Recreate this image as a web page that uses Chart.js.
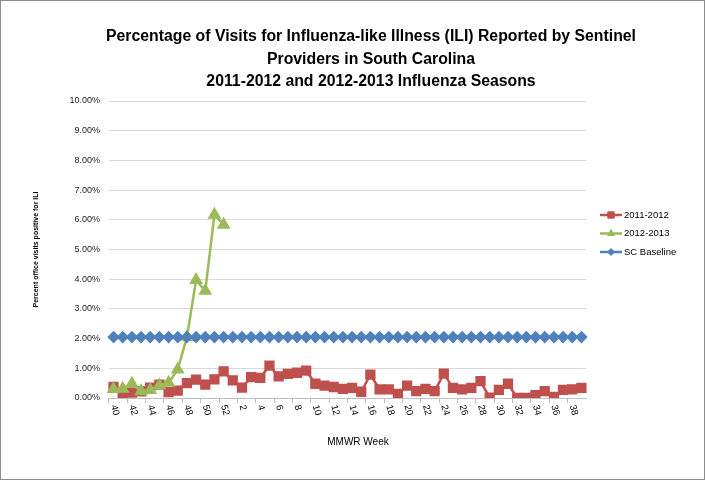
<!DOCTYPE html>
<html>
<head>
<meta charset="utf-8">
<script src="https://cdn.jsdelivr.net/npm/chart.js@4/dist/chart.umd.min.js"></script>
<style>
  html, body { margin: 0; padding: 0; background: #fff; }
  #wrap { width: 705px; height: 480px; box-sizing: border-box; border: 1px solid #8c8c8c; background: #fff; }
  canvas { display: block; }
</style>
</head>
<body>
<div id="wrap"><canvas id="ili" width="703" height="478"></canvas></div>
<script>
// MMWR weeks, 40 of one year through 39 of the next
const weeks = [40, 41, 42, 43, 44, 45, 46, 47, 48, 49, 50, 51, 52,
  1, 2, 3, 4, 5, 6, 7, 8, 9, 10, 11, 12, 13, 14, 15, 16, 17, 18, 19, 20,
  21, 22, 23, 24, 25, 26, 27, 28, 29, 30, 31, 32, 33, 34, 35, 36, 37, 38, 39];

// percent of visits for ILI
const season1112 = [0.37, 0.12, 0.18, 0.22, 0.35, 0.45, 0.20, 0.25, 0.50, 0.62, 0.45, 0.63, 0.90,
  0.59, 0.35, 0.70, 0.68, 1.09, 0.73, 0.81, 0.85, 0.92, 0.48, 0.42,
  0.37, 0.31, 0.34, 0.21, 0.79, 0.29, 0.29, 0.14, 0.42, 0.23, 0.31, 0.23, 0.82, 0.34,
  0.29, 0.34, 0.57, 0.01, 0.27, 0.48, 0.00, 0.00, 0.10, 0.23, 0.04, 0.27, 0.29, 0.34];

const season1213 = [0.30, 0.31, 0.48, 0.23, 0.27, 0.42, 0.51, 0.96, 2.05, 3.97, 3.61, 6.17, 5.83,
  null, null, null, null, null, null, null, null, null, null, null, null, null, null, null, null,
  null, null, null, null, null, null, null, null, null, null, null, null, null, null, null, null,
  null, null, null, null, null, null, null];

const scBaseline = [2.05, 2.05, 2.05, 2.05, 2.05, 2.05, 2.05, 2.05, 2.05, 2.05, 2.05, 2.05, 2.05,
  2.05, 2.05, 2.05, 2.05, 2.05, 2.05, 2.05, 2.05, 2.05, 2.05, 2.05, 2.05, 2.05,
  2.05, 2.05, 2.05, 2.05, 2.05, 2.05, 2.05, 2.05, 2.05, 2.05, 2.05, 2.05, 2.05,
  2.05, 2.05, 2.05, 2.05, 2.05, 2.05, 2.05, 2.05, 2.05, 2.05, 2.05, 2.05, 2.05];

const titleLines = [
  'Percentage of Visits for Influenza-like Illness (ILI) Reported by Sentinel',
  'Providers in South Carolina',
  '2011-2012 and 2012-2013 Influenza Seasons'
];
const xTitle = 'MMWR Week';
const yTitle = 'Percent office visits positive for ILI';

const FONT = '"Liberation Sans", Arial, sans-serif';
Chart.defaults.font.family = FONT;
Chart.defaults.color = '#000';

const RED = '#C0504D', GREEN = '#9BBB59', BLUE = '#4F81BD';

// the titles are off-centre in the original, so they are drawn here
const chartTitles = {
  id: 'chartTitles',
  afterDraw(chart) {
    const ctx = chart.ctx;
    ctx.save();
    ctx.fillStyle = '#000';
    ctx.textAlign = 'center';
    ctx.textBaseline = 'middle';
    ctx.font = 'bold 15.8px ' + FONT;
    titleLines.forEach((t, i) => ctx.fillText(t, 370, 36 + i * 22.5));
    ctx.font = '10px ' + FONT;
    ctx.fillText(xTitle, 357, 441);
    ctx.restore();
  }
};

// x labels in Excel are turned clockwise, Chart.js only turns the other way
const rotatedLabels = {
  id: 'rotatedLabels',
  afterDraw(chart) {
    const xs = chart.scales.x;
    const ctx = chart.ctx;
    ctx.save();
    ctx.font = '9.5px ' + FONT;
    ctx.fillStyle = '#000';
    ctx.textAlign = 'left';
    ctx.textBaseline = 'middle';
    weeks.forEach((w, i) => {
      if (i % 2) return;
      ctx.save();
      ctx.translate(xs.getPixelForTick(i), xs.top + 7);
      ctx.rotate(75 * Math.PI / 180);
      ctx.fillText(String(w), 0, 0);
      ctx.restore();
    });
    ctx.restore();
  }
};

// legend with line + marker like the Excel one
const lineLegend = {
  id: 'lineLegend',
  afterDraw(chart) {
    const ctx = chart.ctx;
    const x0 = chart.chartArea.right + 14;
    let y = 214;
    ctx.save();
    ctx.font = '9.5px ' + FONT;
    ctx.textBaseline = 'middle';
    ctx.textAlign = 'left';
    chart.data.datasets.forEach(ds => {
      ctx.strokeStyle = ds.borderColor;
      ctx.fillStyle = ds.borderColor;
      ctx.lineWidth = 2.5;
      ctx.beginPath();
      ctx.moveTo(x0, y);
      ctx.lineTo(x0 + 22, y);
      ctx.stroke();
      ctx.lineWidth = 1;
      Chart.helpers.drawPoint(ctx, {pointStyle: ds.pointStyle, radius: ds.legendRadius, rotation: 0, borderWidth: 1}, x0 + 11, y);
      ctx.fillStyle = '#000';
      ctx.fillText(ds.label, x0 + 24, y);
      y += 18.5;
    });
    ctx.restore();
  }
};

new Chart(document.getElementById('ili'), {
  type: 'line',
  data: {
    labels: weeks,
    datasets: [
      {
        label: '2011-2012',
        data: season1112,
        borderColor: RED,
        backgroundColor: RED,
        pointBackgroundColor: RED,
        pointBorderColor: RED,
        pointStyle: 'rect',
        pointRadius: 5.5,
        legendRadius: 4.5,
        borderWidth: 2.5,
        tension: 0,
        order: 2,
      },
      {
        label: '2012-2013',
        data: season1213,
        borderColor: GREEN,
        backgroundColor: GREEN,
        pointBackgroundColor: GREEN,
        pointBorderColor: GREEN,
        pointStyle: 'triangle',
        pointRadius: 5.5,
        legendRadius: 4,
        borderWidth: 2.5,
        tension: 0,
        spanGaps: false,
        order: 1,
      },
      {
        label: 'SC Baseline',
        data: scBaseline,
        borderColor: BLUE,
        backgroundColor: BLUE,
        pointBackgroundColor: BLUE,
        pointBorderColor: BLUE,
        pointStyle: 'rectRot',
        pointRadius: 4.5,
        legendRadius: 3.5,
        borderWidth: 2.5,
        tension: 0,
        order: 0,
      },
    ]
  },
  options: {
    responsive: false,
    animation: false,
    events: [],
    layout: {
      padding: {left: 31, right: 118, bottom: 58, top: 100}
    },
    plugins: {
      legend: {display: false},
      tooltip: {enabled: false},
      title: {display: false},
    },
    scales: {
      x: {
        offset: true,
        border: {display: true, color: '#bfbfbf', width: 1},
        grid: {
          display: true,
          drawOnChartArea: false,
          drawTicks: true,
          tickLength: 5,
          offset: true,
          color: ctx => (ctx.index % 2 === 0 ? '#bfbfbf' : 'rgba(0,0,0,0)'),
        },
        ticks: {
          autoSkip: false,
          maxRotation: 0,
          minRotation: 0,
          padding: 3,
          color: 'rgba(0,0,0,0)',
          font: {size: 10},
          callback: (v, i) => (i % 2 === 0 ? String(weeks[i]) : ''),
        },
      },
      y: {
        min: 0,
        max: 10,
        border: {display: false},
        grid: {color: '#d9d9d9', drawTicks: false},
        ticks: {
          stepSize: 1,
          padding: 9,
          color: '#222',
          font: {size: 9},
          callback: v => v.toFixed(2) + '%',
        },
        title: {
          display: true,
          text: yTitle,
          color: '#000',
          font: {size: 7, weight: 'bold'},
          padding: {top: 0, bottom: 20},
        },
      },
    },
  },
  plugins: [chartTitles, rotatedLabels, lineLegend],
});
</script>
</body>
</html>
